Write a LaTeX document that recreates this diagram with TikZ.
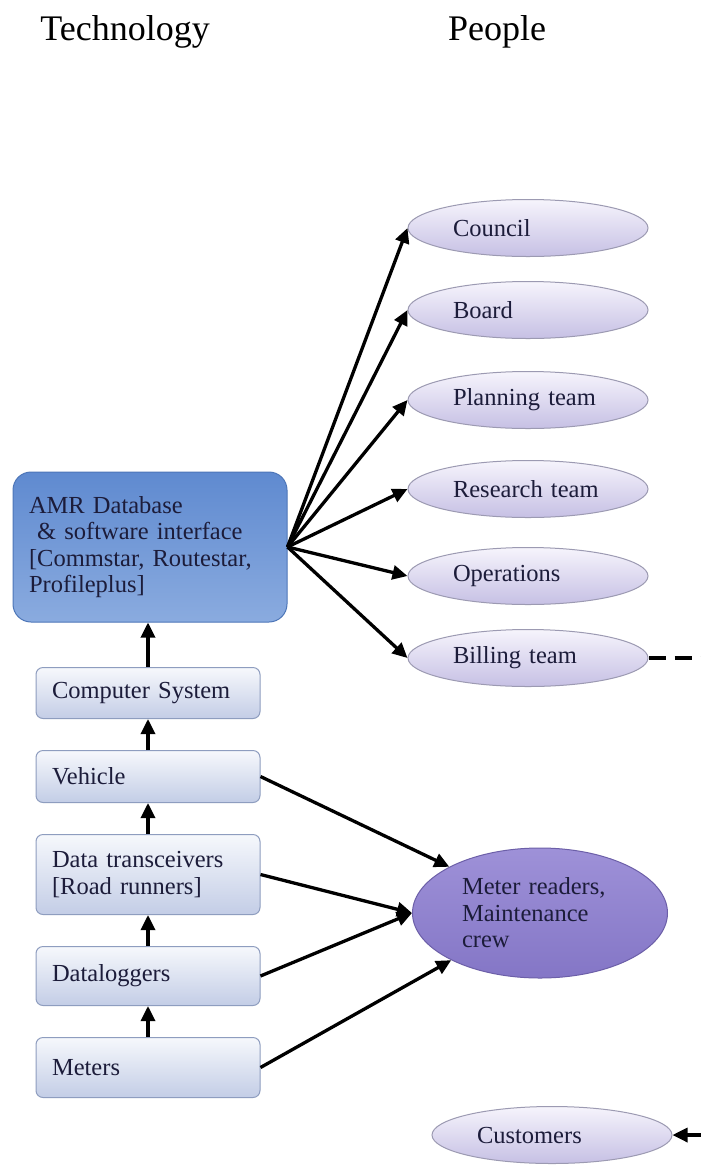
\documentclass[tikz,border=0pt]{standalone}
\usepackage{fontspec}
\setmainfont{Liberation Serif}
\usepackage{tikz}
\usetikzlibrary{arrows.meta, positioning, shapes.geometric}

\definecolor{amrfill}{HTML}{5F8AD0}
\definecolor{amrfilllow}{HTML}{8AABDF}
\definecolor{amrline}{HTML}{4D76B8}
\definecolor{techtop}{HTML}{F6F8FC}
\definecolor{techlow}{HTML}{C3CDE6}
\definecolor{techline}{HTML}{8E9DBF}
\definecolor{peopletop}{HTML}{F6F4FC}
\definecolor{peoplelow}{HTML}{C6C0E4}
\definecolor{peopleline}{HTML}{9C9AB2}
\definecolor{crewtop}{HTML}{9E91D8}
\definecolor{crewlow}{HTML}{8476C6}
\definecolor{crewline}{HTML}{6C5FA8}
\definecolor{inktext}{HTML}{1C1C3A}

\begin{document}
\begin{tikzpicture}[
		x=1pt, y=-1pt,
		node distance=31pt and 2cm,
		body/.style={font=\fontsize{24.5}{26.5}\selectfont, text=inktext},
		heading/.style={font=\fontsize{36}{40}\selectfont},
		amrbox/.style={body, draw=amrline, line width=1pt, rounded corners=18pt, top color=amrfill, bottom color=amrfilllow, minimum width=274pt, minimum height=150pt, text width=242pt, inner xsep=16pt, align=left},
		techbox/.style={body, draw=techline, line width=1pt, rounded corners=7pt, top color=techtop, bottom color=techlow, minimum width=224pt, text width=192pt, inner xsep=16pt, align=left},
		group/.style={body, ellipse, draw=peopleline, line width=1pt, top color=peopletop, bottom color=peoplelow, minimum width=240pt, minimum height=57pt, text width=150pt, inner sep=2pt, align=left},
		crewnode/.style={body, ellipse, draw=crewline, line width=1pt, top color=crewtop, bottom color=crewlow, minimum width=255pt, minimum height=130pt, text width=156pt, inner sep=2pt, align=left},
		arrow/.style={-{Triangle[length=15pt,width=14pt]}, line width=3.3pt},
		dashline/.style={line width=3.3pt, dash pattern=on 17pt off 9pt}
		]

		\useasboundingbox[fill=white] (0,0) rectangle (701,1168);

		% Headings
		\node[heading, anchor=base] (tech) at (125,40) {Technology};
		\node[heading, anchor=base] (people) at (497,40) {People};

		% Technology side
		\node[amrbox] (amr) at (150,547) {AMR Database\\\ \&~software interface\\{}[Commstar, Routestar,\\Profileplus]};
		\node[techbox, minimum height=51pt, anchor=north] (comp) at (148,667) {Computer System};
		\node[techbox, minimum height=52pt] (vehicle) [below=of comp] {Vehicle};
		\node[techbox, minimum height=80pt] (trans) [below=of vehicle] {Data transceivers\\{}[Road runners]};
		\node[techbox, minimum height=59pt] (logger) [below=of trans] {Dataloggers};
		\node[techbox, minimum height=60pt] (meters) [below=of logger] {Meters};

		% People side
		\node[group] (council) at (528,228) {Council};
		\node[group] (board) at (528,310) {Board};
		\node[group] (planning) at (528,400) {Planning team};
		\node[group] (research) at (528,489) {Research team};
		\node[group] (operations) at (528,576) {Operations};
		\node[group] (billing) at (528,658) {Billing team};
		\node[crewnode] (crew) at (540,913) {Meter readers,\\Maintenance\\crew};
		\node[group] (customers) at (552,1135) {Customers};
		\coordinate (edge) at (703,0);

		% Arrows
		\draw[arrow] (meters.north) -- (logger.south);
		\draw[arrow] (logger.north) -- (trans.south);
		\draw[arrow] (trans.north) -- (vehicle.south);
		\draw[arrow] (vehicle.north) -- (comp.south);
		\draw[arrow] (comp.north) -- (comp.north |- amr.south);

		\draw[arrow] (amr.east) -- (council.west);
		\draw[arrow] (amr.east) -- (board.west);
		\draw[arrow] (amr.east) -- (planning.west);
		\draw[arrow] (amr.east) -- (research.west);
		\draw[arrow] (amr.east) -- (operations.west);
		\draw[arrow] (amr.east) -- (billing.west);

		\draw[arrow] (vehicle.east) -- (crew.153);
		\draw[arrow] (trans.east) -- (crew.west);
		\draw[arrow] (logger.east) -- (crew.west);
		\draw[arrow] (meters.east) -- (crew.208);

		\draw[dashline] (billing.east) -- (billing.east -| edge) -- (customers.east -| edge);
		\draw[arrow] (customers.east -| edge) -- (customers.east);

	\end{tikzpicture}
\end{document}
